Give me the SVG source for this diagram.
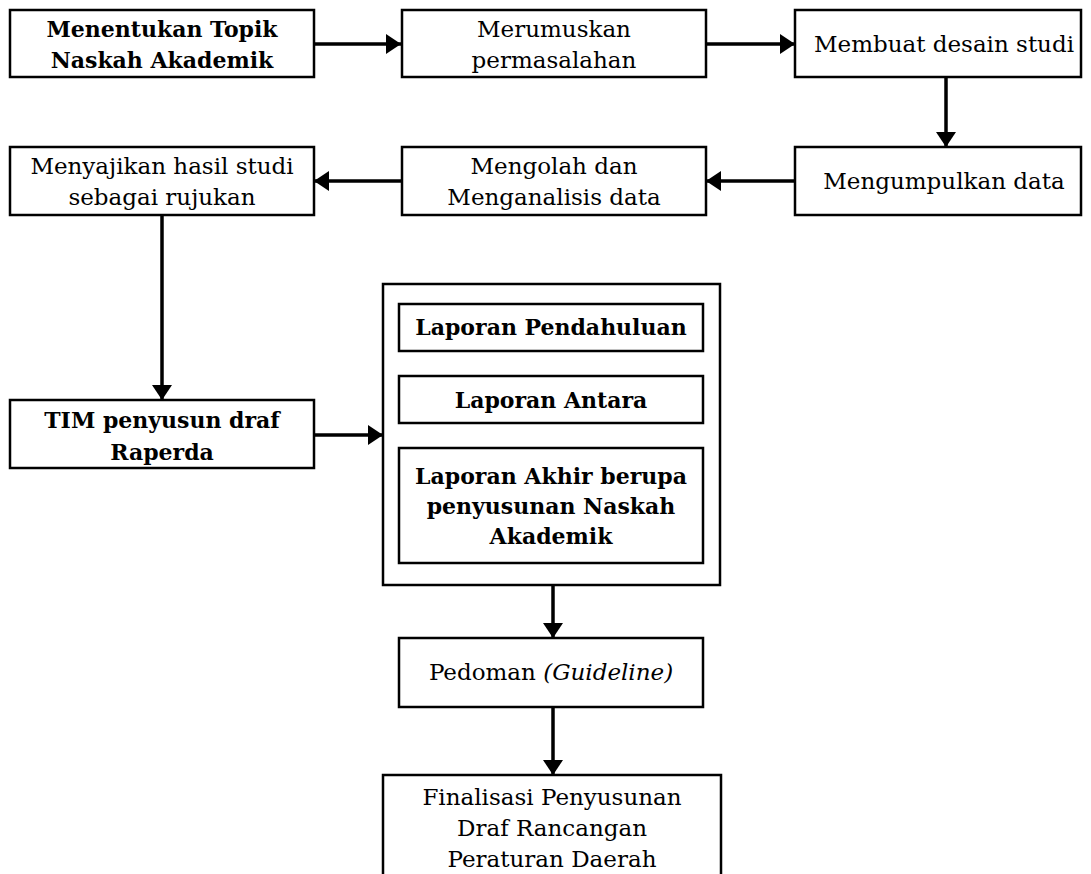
<svg xmlns="http://www.w3.org/2000/svg" width="1091" height="874" viewBox="0 0 1091 874">
<style>
.box{fill:#fff;stroke:#000;stroke-width:2.5}
.t{font-family:"DejaVu Serif","Liberation Serif",serif;font-size:23px;fill:#000;text-anchor:middle}
.b{font-weight:bold;font-size:22px}
.c{fill:none;stroke:#000;stroke-width:3.5}
</style>
<defs>
<marker id="ah" markerUnits="userSpaceOnUse" markerWidth="16" markerHeight="20" viewBox="0 0 16 20" refX="15" refY="10" orient="auto">
<path d="M0,0 L15,10 L0,20 Z" fill="#000"/>
</marker>
</defs>
<rect width="1091" height="874" fill="#fff"/>
<g id="connectors">
<line class="c" x1="314" y1="44" x2="401" y2="44" marker-end="url(#ah)"/>
<line class="c" x1="706" y1="44" x2="795" y2="44" marker-end="url(#ah)"/>
<line class="c" x1="946" y1="77" x2="946" y2="147" marker-end="url(#ah)"/>
<line class="c" x1="795" y1="181" x2="706" y2="181" marker-end="url(#ah)"/>
<line class="c" x1="402" y1="181" x2="314" y2="181" marker-end="url(#ah)"/>
<line class="c" x1="162" y1="215" x2="162" y2="400" marker-end="url(#ah)"/>
<line class="c" x1="314" y1="435" x2="383" y2="435" marker-end="url(#ah)"/>
<line class="c" x1="553" y1="585" x2="553" y2="638" marker-end="url(#ah)"/>
<line class="c" x1="553" y1="707" x2="553" y2="775" marker-end="url(#ah)"/>
</g>
<g id="n1"><rect class="box" x="10" y="10" width="304" height="67"/>
<text class="t b" x="162" y="37">Menentukan Topik</text><text class="t b" x="162" y="68">Naskah Akademik</text></g>
<g id="n2"><rect class="box" x="402" y="10" width="304" height="67"/>
<text class="t" x="554" y="37">Merumuskan</text><text class="t" x="554" y="68">permasalahan</text></g>
<g id="n3"><rect class="box" x="795" y="10" width="286" height="67"/>
<text class="t" x="944" y="52">Membuat desain studi</text></g>
<g id="n4"><rect class="box" x="10" y="147" width="304" height="68"/>
<text class="t" x="162" y="174">Menyajikan hasil studi</text><text class="t" x="162" y="205">sebagai rujukan</text></g>
<g id="n5"><rect class="box" x="402" y="147" width="304" height="68"/>
<text class="t" x="554" y="174">Mengolah dan</text><text class="t" x="554" y="205">Menganalisis data</text></g>
<g id="n6"><rect class="box" x="795" y="147" width="286" height="68"/>
<text class="t" x="944" y="189">Mengumpulkan data</text></g>
<g id="n7"><rect class="box" x="10" y="400" width="304" height="68"/>
<text class="t b" x="162" y="428">TIM penyusun draf</text><text class="t b" x="162" y="460">Raperda</text></g>
<g id="n8"><rect class="box" x="383" y="284" width="337" height="301"/></g>
<g id="n8a"><rect class="box" x="399" y="304" width="304" height="47"/>
<text class="t b" x="551" y="335">Laporan Pendahuluan</text></g>
<g id="n8b"><rect class="box" x="399" y="376" width="304" height="47"/>
<text class="t b" x="551" y="408">Laporan Antara</text></g>
<g id="n8c"><rect class="box" x="399" y="448" width="304" height="115"/>
<text class="t b" x="551" y="484">Laporan Akhir berupa</text><text class="t b" x="551" y="514">penyusunan Naskah</text><text class="t b" x="551" y="544">Akademik</text></g>
<g id="n9"><rect class="box" x="399" y="638" width="304" height="69"/>
<text class="t" x="551" y="680">Pedoman <tspan font-style="italic">(Guideline)</tspan></text></g>
<g id="n10"><rect class="box" x="383" y="775" width="338" height="110"/>
<text class="t" x="552" y="805">Finalisasi Penyusunan</text><text class="t" x="552" y="836">Draf Rancangan</text><text class="t" x="552" y="867">Peraturan Daerah</text></g>
</svg>
